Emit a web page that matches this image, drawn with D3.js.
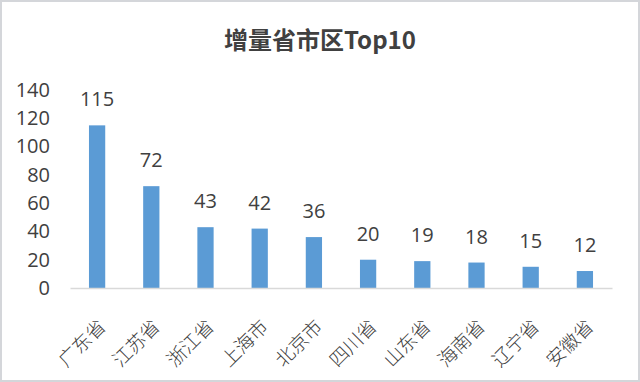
<!DOCTYPE html>
<html>
<head>
<meta charset="utf-8">
<script src="https://cdn.jsdelivr.net/npm/d3@7"></script>
<style>
  html, body { margin: 0; padding: 0; background: #fff; }
  svg { display: block; }
</style>
</head>
<body>
<div id="chart"></div>
<script>
const provinces = ['广东省', '江苏省', '浙江省', '上海市', '北京市', '四川省', '山东省', '海南省', '辽宁省', '安徽省'];
const counts = [115, 72, 43, 42, 36, 20, 19, 18, 15, 12];
const yTicks = [0, 20, 40, 60, 80, 100, 120, 140];
const title = '增量省市区Top10';

const width = 640, height = 382;
const margin = { top: 90, right: 28, bottom: 94, left: 70 };

const svg = d3.select('#chart')
  .append('svg')
    .attr('width', width)
    .attr('height', height);

// outer frame
svg.append('rect')
  .attr('x', 1).attr('y', 1)
  .attr('width', width - 2).attr('height', height - 2)
  .attr('fill', '#fff')
  .attr('stroke', '#d4d6da')
  .attr('stroke-width', 2);

svg.append('text')
  .attr('x', 320)
  .attr('y', 49)
  .attr('text-anchor', 'middle')
  .attr('font-family', '"Noto Sans CJK SC", sans-serif')
  .attr('font-weight', 'bold')
  .attr('font-size', 24)
  .attr('fill', '#404040')
  .text(title);

const x = d3.scaleBand()
  .domain(provinces)
  .range([margin.left, width - margin.right])
  .paddingInner(0.7)
  .paddingOuter(0.35);

const y = d3.scaleLinear()
  .domain([0, 140])
  .range([height - margin.bottom, margin.top]);

// y tick labels (no axis line)
const yAxis = d3.axisLeft(y)
  .tickValues(yTicks)
  .tickSize(0)
  .tickPadding(0);

svg.append('g')
  .attr('transform', 'translate(50, 0)')
  .call(yAxis)
  .call(g => g.select('.domain').remove())
  .selectAll('text')
    .attr('font-family', '"Open Sans", sans-serif')
    .attr('font-size', 20)
    .attr('fill', '#404040');

// bars
svg.append('g')
  .selectAll('rect')
  .data(provinces)
  .enter()
  .append('rect')
    .attr('x', d => x(d))
    .attr('y', (d, i) => y(counts[i]))
    .attr('width', x.bandwidth())
    .attr('height', (d, i) => y(0) - y(counts[i]))
    .attr('fill', '#5b9bd5');

// value labels
svg.append('g')
  .selectAll('text')
  .data(provinces)
  .enter()
  .append('text')
    .attr('x', d => x(d) + x.bandwidth() / 2)
    .attr('y', (d, i) => y(counts[i]) - 19)
    .attr('text-anchor', 'middle')
    .attr('font-family', '"Open Sans", sans-serif')
    .attr('font-size', 20)
    .attr('fill', '#404040')
    .text((d, i) => counts[i]);

// x axis
const xAxis = d3.axisBottom(x).tickSize(0).tickFormat('');
const xg = svg.append('g')
  .attr('transform', 'translate(0,' + y(0) + ')')
  .call(xAxis);
xg.select('.domain')
  .attr('stroke', '#d9d9d9')
  .attr('stroke-width', 1.5);

svg.append('g')
  .selectAll('text')
  .data(provinces)
  .enter()
  .append('text')
    .attr('transform', d => 'translate(' + (x(d) + x.bandwidth() / 2 - 1) + ',' + (y(0) + 29) + ') rotate(-45)')
    .attr('text-anchor', 'end')
    .attr('dy', '0.8em')
    .attr('font-family', '"Noto Sans CJK SC", sans-serif')
    .attr('font-weight', 300)
    .attr('font-size', 19)
    .attr('fill', '#404040')
    .text(d => d);
</script>
</body>
</html>
